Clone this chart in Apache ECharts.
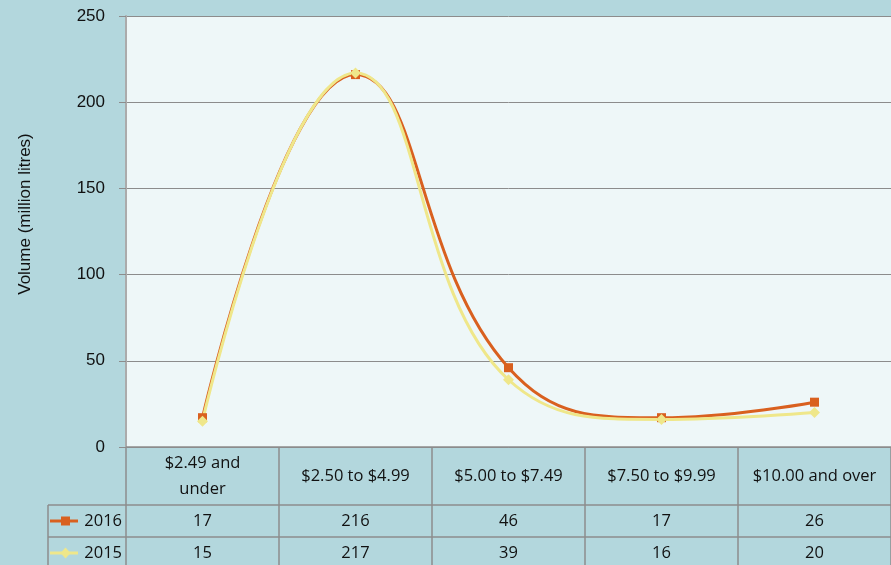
<!DOCTYPE html>
<html>
<head>
<meta charset="utf-8">
<script src="https://cdn.jsdelivr.net/npm/echarts@6/dist/echarts.min.js"></script>
<style>
  html, body { margin: 0; padding: 0; background: #b3d7dd; }
  #chart { width: 891px; height: 565px; }
</style>
</head>
<body>
<div id="chart"></div>
<script>
// Wine volume by price band
const categories = ['$2.49 and\nunder', '$2.50 to $4.99', '$5.00 to $7.49', '$7.50 to $9.99', '$10.00 and over'];
const seriesNames = ['2016', '2015'];
const values2016 = [17, 216, 46, 17, 26];
const values2015 = [15, 217, 39, 16, 20];
const yMax = 250;
const yStep = 50;
const yAxisTitle = 'Volume (million litres)';

const colors = { s2016: '#d9601f', s2015: '#efe78a' };
const tableFont = '"Open Sans", "Noto Sans", sans-serif';
const lineColor = '#8c8c8c';

const chart = echarts.init(document.getElementById('chart'), null, { renderer: 'canvas' });

const option = {
  backgroundColor: '#b3d7dd',
  animation: false,
  grid: {
    left: 126, right: 0, top: 16, bottom: 118,
    show: true, backgroundColor: '#eef7f8', borderWidth: 0
  },
  xAxis: {
    type: 'category',
    data: categories,
    boundaryGap: true,
    axisLine: { show: false },
    axisTick: { show: false },
    axisLabel: { show: false }
  },
  yAxis: {
    type: 'value',
    min: 0, max: yMax, interval: yStep,
    name: yAxisTitle,
    nameLocation: 'middle',
    nameGap: 92,
    nameRotate: 90,
    nameTextStyle: {
      fontFamily: '"Liberation Sans", Arial, sans-serif', fontSize: 17, color: '#111',
      padding: [0, 0, 0, 35]
    },
    axisLine: { show: true, lineStyle: { color: '#ababab', width: 2 } },
    axisTick: { show: true, length: 7, lineStyle: { color: lineColor } },
    axisLabel: { fontFamily: '"Liberation Sans", Arial, sans-serif', fontSize: 17, color: '#111', margin: 21 },
    splitLine: { show: true, lineStyle: { color: lineColor, width: 1 } }
  },
  series: [
    {
      name: seriesNames[0], type: 'line', data: values2016, smooth: 0.45,
      symbol: 'rect', symbolSize: 9, showAllSymbol: true,
      lineStyle: { color: colors.s2016, width: 3 },
      itemStyle: { color: colors.s2016 }
    },
    {
      name: seriesNames[1], type: 'line', data: values2015, smooth: 0.45,
      symbol: 'diamond', symbolSize: 11, showAllSymbol: true,
      lineStyle: { color: colors.s2015, width: 3 },
      itemStyle: { color: colors.s2015 }
    }
  ]
};
chart.setOption(option);

// Data table under the plot, placed from the axis scales
function buildTable() {
  const centers = categories.map((c, i) => chart.convertToPixel({ xAxisIndex: 0 }, i));
  const band = centers.length > 1 ? centers[1] - centers[0] : 150;
  const y0 = chart.convertToPixel({ yAxisIndex: 0 }, 0);
  const headerH = 58, rowH = 32;
  const legendLeft = 48;
  const left = centers[0] - band / 2;
  const right = centers[centers.length - 1] + band / 2;
  const rowTop = [y0 + headerH, y0 + headerH + rowH];
  const bottom = y0 + headerH + rowH * 2;
  const rows = [values2016, values2015];
  const rowColors = [colors.s2016, colors.s2015];
  const font = '16.5px ' + tableFont;
  const els = [];
  const line = (x1, y1, x2, y2) => els.push({
    type: 'line', shape: { x1, y1, x2, y2 }, silent: true,
    style: { stroke: lineColor, lineWidth: 1.5 }, z: 10
  });
  // horizontal rules
  line(left, y0, right, y0);
  rowTop.forEach(y => line(legendLeft, y, right, y));
  // vertical rules
  for (let i = 0; i <= categories.length; i++) {
    const x = left + band * i;
    line(x, y0, x, bottom);
  }
  line(legendLeft, rowTop[0], legendLeft, bottom);
  // header text
  categories.forEach((c, i) => els.push({
    type: 'text', silent: true, z: 11,
    style: {
      x: centers[i], y: y0 + headerH / 2, text: c,
      align: 'center', verticalAlign: 'middle',
      font, fill: '#111', lineHeight: 26
    }
  }));
  // value rows with legend keys
  rows.forEach((vals, r) => {
    const cy = rowTop[r] + rowH / 2;
    vals.forEach((v, i) => els.push({
      type: 'text', silent: true, z: 11,
      style: {
        x: centers[i], y: cy, text: String(v),
        align: 'center', verticalAlign: 'middle',
        font, fill: '#111'
      }
    }));
    els.push({
      type: 'text', silent: true, z: 11,
      style: {
        x: left - 4, y: cy, text: seriesNames[r],
        align: 'right', verticalAlign: 'middle',
        font, fill: '#111'
      }
    });
    els.push({
      type: 'line', silent: true, z: 11,
      shape: { x1: legendLeft + 2, y1: cy, x2: legendLeft + 30, y2: cy },
      style: { stroke: rowColors[r], lineWidth: 3 }
    });
    if (r === 0) {
      els.push({
        type: 'rect', silent: true, z: 12,
        shape: { x: legendLeft + 13, y: cy - 4.5, width: 9, height: 9 },
        style: { fill: rowColors[r] }
      });
    } else {
      els.push({
        type: 'polygon', silent: true, z: 12,
        shape: { points: [[legendLeft + 17.5, cy - 5.5], [legendLeft + 22.5, cy], [legendLeft + 17.5, cy + 5.5], [legendLeft + 12.5, cy]] },
        style: { fill: rowColors[r] }
      });
    }
  });
  chart.setOption({ graphic: { elements: els } });
}
buildTable();
</script>
</body>
</html>
